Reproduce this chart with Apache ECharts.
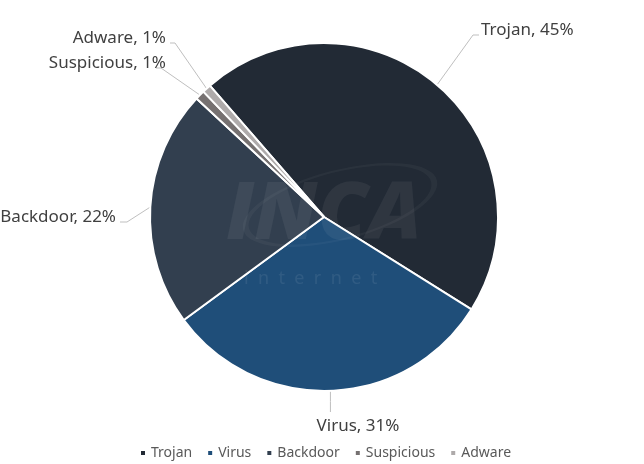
<!DOCTYPE html>
<html>
<head>
<meta charset="utf-8">
<script src="https://cdn.jsdelivr.net/npm/echarts@6/dist/echarts.min.js"></script>
<style>
html,body{margin:0;padding:0;background:#fff;}
#chart{width:644px;height:464px;}
</style>
</head>
<body>
<div id="chart"></div>
<script>
var categories = ['Trojan', 'Virus', 'Backdoor', 'Suspicious', 'Adware'];
var shares = [45.3, 31.0, 22.0, 0.9, 0.8];
var colors = ['#222A35', '#1F4E79', '#323F4F', '#767171', '#AEAAAA'];

// label placement (text anchor + leader elbow) per slice
var labelPlaces = [
  {x: 481, y: 30, align: 'left', line: [[473, 35], [479, 35]]},
  {x: 358, y: 426, align: 'center', vertical: true, lineEnd: 412},
  {x: 116, y: 217, align: 'right', line: [[127, 222], [120, 222]]},
  {x: 166, y: 63, align: 'right', line: [[161, 68], [156, 68]]},
  {x: 166, y: 38, align: 'right', line: [[175, 43], [170, 43]]}
];

var chart = echarts.init(document.getElementById('chart'), null, {renderer: 'canvas'});
var data = categories.map(function (c, i) {
  return {name: c, value: shares[i], itemStyle: {color: colors[i]}};
});

chart.setOption({
  animation: false,
  backgroundColor: '#ffffff',
  legend: {
    data: categories,
    left: 134,
    top: 441,
    icon: 'rect',
    itemWidth: 6,
    itemHeight: 6,
    itemGap: 14,
    textStyle: {fontFamily: 'Noto Sans', fontSize: 14, color: '#595959'}
  },
  graphic: [
    {
      type: 'text', left: 226, top: 176, z: 100,
      style: {text: 'INCA', font: 'italic 800 80px "Open Sans"', fill: 'rgba(255,255,255,0.06)'}
    },
    {
      type: 'text', left: 244, top: 270, z: 100,
      style: {text: 'i  n  t  e  r  n  e  t', font: '18px "Noto Sans"', fill: 'rgba(255,255,255,0.08)'}
    },
    {
      type: 'ring', shape: {cx: 340, cy: 205, r: 100, r0: 94}, scaleY: 0.35, originX: 340, originY: 205,
      rotation: 0.25, z: 100, style: {fill: 'rgba(255,255,255,0.04)'}
    }
  ],
  series: [{
    type: 'pie',
    center: [324, 217],
    radius: 174,
    startAngle: 131,
    clockwise: true,
    avoidLabelOverlap: false,
    data: data,
    itemStyle: {borderColor: '#ffffff', borderWidth: 2},
    label: {
      show: true,
      position: 'outside',
      fontFamily: 'Noto Sans',
      fontSize: 17,
      color: '#404040',
      formatter: function (p) { return p.name + ', ' + Math.round(p.percent) + '%'; }
    },
    labelLine: {show: true, lineStyle: {color: '#BFBFBF', width: 1}},
    labelLayout: function (params) {
      var pl = labelPlaces[params.dataIndex];
      var p0 = params.labelLinePoints ? params.labelLinePoints[0] : [0, 0];
      var pts;
      if (pl.vertical) {
        pts = [p0, [p0[0], (p0[1] + pl.lineEnd) / 2], [p0[0], pl.lineEnd]];
      } else {
        pts = [p0, pl.line[0], pl.line[1]];
      }
      return {x: pl.x, y: pl.y, align: pl.align, verticalAlign: 'middle', labelLinePoints: pts};
    }
  }]
});
</script>
</body>
</html>
